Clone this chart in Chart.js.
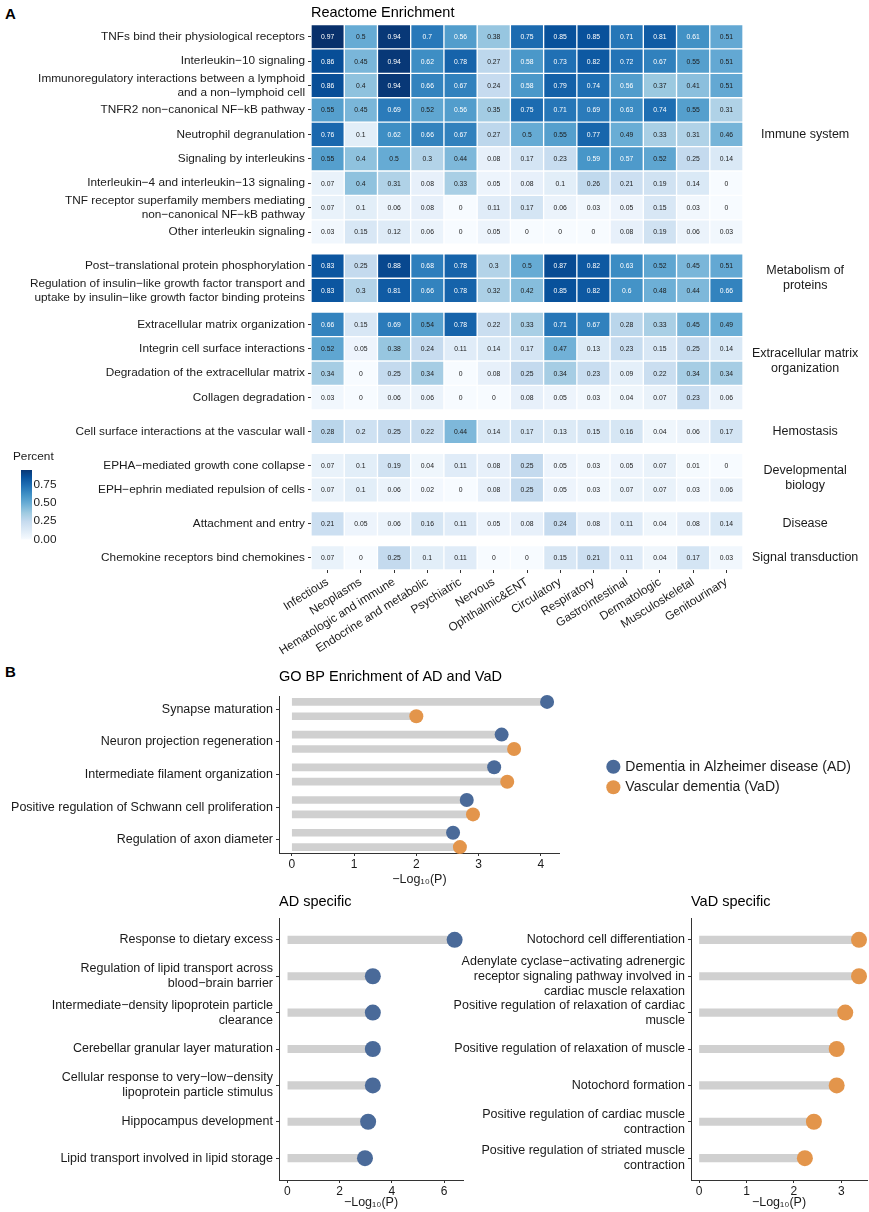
<!DOCTYPE html>
<html>
<head>
<meta charset="utf-8">
<title>Reactome and GO BP enrichment</title>
<script src="https://cdn.jsdelivr.net/npm/chart.js@4.4.1/dist/chart.umd.min.js"></script>
<style>
    body { margin: 0; background: #fff; }
    #page { position: relative; width: 869px; height: 1212px; overflow: hidden;
            font-family: "Liberation Sans", Arial, Helvetica, sans-serif; }
    .tag { position: absolute; font-weight: bold; font-size: 15px; line-height: 15px; color: #000; }
    canvas { position: absolute; }
</style>
</head>
<body>
<div id="page">
    <div class="tag" style="left:5px;top:6px">A</div>
    <div class="tag" style="left:5px;top:664px">B</div>
    <canvas id="heatmap" width="869" height="680" style="left:0;top:0"></canvas>
    <canvas id="colorbar" width="75" height="100" style="left:0;top:448px"></canvas>
    <canvas id="goShared" width="869" height="230" style="left:0;top:662px"></canvas>
    <canvas id="adSpecific" width="470" height="325" style="left:0;top:887px"></canvas>
    <canvas id="vadSpecific" width="429" height="325" style="left:440px;top:887px"></canvas>
</div>
<script>
'use strict';

/* ---------- Panel A data: Reactome enrichment (share of genes) ---------- */

const diseaseCategories = ['Infectious', 'Neoplasms', 'Hematologic and immune', 'Endocrine and metabolic',
    'Psychiatric', 'Nervous', 'Ophthalmic&ENT', 'Circulatory', 'Respiratory', 'Gastrointestinal',
    'Dermatologic', 'Musculoskeletal', 'Genitourinary'];

const pathwayNames = [
    'TNFs bind their physiological receptors',
    'Interleukin−10 signaling',
    ['Immunoregulatory interactions between a lymphoid', 'and a non−lymphoid cell'],
    'TNFR2 non−canonical NF−kB pathway',
    'Neutrophil degranulation',
    'Signaling by interleukins',
    'Interleukin−4 and interleukin−13 signaling',
    ['TNF receptor superfamily members mediating', 'non−canonical NF−kB pathway'],
    'Other interleukin signaling',
    'Post−translational protein phosphorylation',
    ['Regulation of insulin−like growth factor transport and', 'uptake by insulin−like growth factor binding proteins'],
    'Extracellular matrix organization',
    'Integrin cell surface interactions',
    'Degradation of the extracellular matrix',
    'Collagen degradation',
    'Cell surface interactions at the vascular wall',
    'EPHA−mediated growth cone collapse',
    'EPH−ephrin mediated repulsion of cells',
    'Attachment and entry',
    'Chemokine receptors bind chemokines'
];

// index into groupNames for every pathway
const pathwayGroup = [0, 0, 0, 0, 0, 0, 0, 0, 0, 1, 1, 2, 2, 2, 2, 3, 4, 4, 5, 6];

const groupNames = ['Immune system', ['Metabolism of', 'proteins'], ['Extracellular matrix', 'organization'],
    'Hemostasis', ['Developmental', 'biology'], 'Disease', 'Signal transduction'];

// one row per pathway, one column per disease category
const percent = [
    [0.97, 0.5, 0.94, 0.7, 0.56, 0.38, 0.75, 0.85, 0.85, 0.71, 0.81, 0.61, 0.51],
    [0.86, 0.45, 0.94, 0.62, 0.78, 0.27, 0.58, 0.73, 0.82, 0.72, 0.67, 0.55, 0.51],
    [0.86, 0.4, 0.94, 0.66, 0.67, 0.24, 0.58, 0.79, 0.74, 0.56, 0.37, 0.41, 0.51],
    [0.55, 0.45, 0.69, 0.52, 0.56, 0.35, 0.75, 0.71, 0.69, 0.63, 0.74, 0.55, 0.31],
    [0.76, 0.1, 0.62, 0.66, 0.67, 0.27, 0.5, 0.55, 0.77, 0.49, 0.33, 0.31, 0.46],
    [0.55, 0.4, 0.5, 0.3, 0.44, 0.08, 0.17, 0.23, 0.59, 0.57, 0.52, 0.25, 0.14],
    [0.07, 0.4, 0.31, 0.08, 0.33, 0.05, 0.08, 0.1, 0.26, 0.21, 0.19, 0.14, 0],
    [0.07, 0.1, 0.06, 0.08, 0, 0.11, 0.17, 0.06, 0.03, 0.05, 0.15, 0.03, 0],
    [0.03, 0.15, 0.12, 0.06, 0, 0.05, 0, 0, 0, 0.08, 0.19, 0.06, 0.03],
    [0.83, 0.25, 0.88, 0.68, 0.78, 0.3, 0.5, 0.87, 0.82, 0.63, 0.52, 0.45, 0.51],
    [0.83, 0.3, 0.81, 0.66, 0.78, 0.32, 0.42, 0.85, 0.82, 0.6, 0.48, 0.44, 0.66],
    [0.66, 0.15, 0.69, 0.54, 0.78, 0.22, 0.33, 0.71, 0.67, 0.28, 0.33, 0.45, 0.49],
    [0.52, 0.05, 0.38, 0.24, 0.11, 0.14, 0.17, 0.47, 0.13, 0.23, 0.15, 0.25, 0.14],
    [0.34, 0, 0.25, 0.34, 0, 0.08, 0.25, 0.34, 0.23, 0.09, 0.22, 0.34, 0.34],
    [0.03, 0, 0.06, 0.06, 0, 0, 0.08, 0.05, 0.03, 0.04, 0.07, 0.23, 0.06],
    [0.28, 0.2, 0.25, 0.22, 0.44, 0.14, 0.17, 0.13, 0.15, 0.16, 0.04, 0.06, 0.17],
    [0.07, 0.1, 0.19, 0.04, 0.11, 0.08, 0.25, 0.05, 0.03, 0.05, 0.07, 0.01, 0],
    [0.07, 0.1, 0.06, 0.02, 0, 0.08, 0.25, 0.05, 0.03, 0.07, 0.07, 0.03, 0.06],
    [0.21, 0.05, 0.06, 0.16, 0.11, 0.05, 0.08, 0.24, 0.08, 0.11, 0.04, 0.08, 0.14],
    [0.07, 0, 0.25, 0.1, 0.11, 0, 0, 0.15, 0.21, 0.11, 0.04, 0.17, 0.03]
];

const percentTicks = [0, 0.25, 0.5, 0.75];

/* ---------- Panel B data: GO BP enrichment, -log10(P) ---------- */

const goTerms = ['Synapse maturation', 'Neuron projection regeneration', 'Intermediate filament organization',
    'Positive regulation of Schwann cell proliferation', 'Regulation of axon diameter'];
const goLogpAD = [4.10, 3.37, 3.25, 2.81, 2.59];
const goLogpVaD = [2.00, 3.57, 3.46, 2.91, 2.70];
const goTicks = [0, 1, 2, 3, 4];

const adTerms = [
    'Response to dietary excess',
    ['Regulation of lipid transport across', 'blood−brain barrier'],
    ['Intermediate−density lipoprotein particle', 'clearance'],
    'Cerebellar granular layer maturation',
    ['Cellular response to very−low−density', 'lipoprotein particle stimulus'],
    'Hippocampus development',
    'Lipid transport involved in lipid storage'
];
const adLogp = [6.40, 3.27, 3.27, 3.27, 3.27, 3.09, 2.97];
const adTicks = [0, 2, 4, 6];

const vadTerms = [
    'Notochord cell differentiation',
    ['Adenylate cyclase−activating adrenergic', 'receptor signaling pathway involved in', 'cardiac muscle relaxation'],
    ['Positive regulation of relaxation of cardiac', 'muscle'],
    'Positive regulation of relaxation of muscle',
    'Notochord formation',
    ['Positive regulation of cardiac muscle', 'contraction'],
    ['Positive regulation of striated muscle', 'contraction']
];
const vadLogp = [3.37, 3.37, 3.08, 2.90, 2.90, 2.42, 2.23];
const vadTicks = [0, 1, 2, 3];

/* ---------- styling ---------- */

const FONT = '"Liberation Sans", Arial, Helvetica, sans-serif';
const INK = '#1a1a1a';
const AXIS = '#333333';
const BLUES = ['#f7fbff', '#deebf7', '#c6dbef', '#9ecae1', '#6baed6', '#4292c6', '#2171b5', '#08519c', '#08306b'];
const AD_BLUE = '#4a6a99';
const VAD_ORANGE = '#e3954b';
const STICK_GREY = '#d0d0d0';

Chart.defaults.font.family = FONT;
Chart.defaults.color = INK;

const percentMax = Math.max(...percent.flat());

function hexToRgb(hex) {
    const n = parseInt(hex.slice(1), 16);
    return [(n >> 16) & 255, (n >> 8) & 255, n & 255];
}

// map a share onto the Blues ramp, 0 -> lightest, max -> darkest
function blueFor(value) {
    const t = Math.max(0, Math.min(1, value / percentMax)) * (BLUES.length - 1);
    const k = Math.min(Math.floor(t), BLUES.length - 2);
    const f = t - k;
    const a = hexToRgb(BLUES[k]);
    const b = hexToRgb(BLUES[k + 1]);
    const c = a.map((v, i) => Math.round(v + (b[i] - v) * f));
    return `rgb(${c[0]}, ${c[1]}, ${c[2]})`;
}

/* ---------- heatmap ---------- */

const GROUP_GAP = 0.39;   // extra space between facet groups, in rows
const rowPos = pathwayNames.map((_, i) => i + pathwayGroup[i] * GROUP_GAP);
const groupCentre = groupNames.map((_, g) => {
    const rows = rowPos.filter((_, i) => pathwayGroup[i] === g);
    return (rows[0] + rows[rows.length - 1]) / 2;
});
const rowMin = -0.5;
const rowMax = rowPos[rowPos.length - 1] + 0.5;

// writes the share inside each cell
const cellLabels = {
    id: 'cellLabels',
    afterDatasetsDraw(chart) {
        const ctx = chart.ctx;
        ctx.save();
        ctx.font = `6.8px ${FONT}`;
        ctx.textAlign = 'center';
        ctx.textBaseline = 'middle';
        chart.data.datasets.forEach((ds, j) => {
            chart.getDatasetMeta(j).data.forEach((bar, i) => {
                const v = percent[i][j];
                const p = bar.getProps(['x', 'y', 'base'], true);
                ctx.fillStyle = v > 0.555 ? '#ffffff' : INK;
                ctx.fillText(String(v), (p.x + p.base) / 2, p.y + 0.5);
            });
        });
        ctx.restore();
    }
};

function createHeatmap(canvasId) {
    const ctx = document.getElementById(canvasId);
    const tickFont = { family: FONT, size: 11.8 };

    return new Chart(ctx, {
        type: 'bar',
        data: {
            datasets: diseaseCategories.map((name, j) => ({
                label: name,
                data: percent.map((row, i) => ({ x: [j, j + 1], y: rowPos[i] })),
                backgroundColor: percent.map(row => blueFor(row[j])),
                borderColor: '#ffffff',
                borderWidth: 1,
                borderSkipped: false,
                barThickness: 24.4,
                grouped: false
            }))
        },
        options: {
            indexAxis: 'y',
            responsive: false,
            animation: false,
            events: [],
            layout: { padding: 0, autoPadding: false },
            plugins: {
                legend: { display: false },
                tooltip: { enabled: false },
                title: {
                    display: true,
                    text: 'Reactome Enrichment',
                    align: 'start',
                    fullSize: false,
                    color: '#000',
                    font: { family: FONT, size: 14.5, weight: 'normal' },
                    padding: { top: 4, bottom: 3.1 }
                }
            },
            scales: {
                x: {
                    type: 'linear',
                    position: 'bottom',
                    min: 0,
                    max: diseaseCategories.length,
                    offset: false,
                    afterBuildTicks: scale => { scale.ticks = diseaseCategories.map((_, j) => ({ value: j + 0.5 })); },
                    afterFit: scale => { scale.height = 110; },
                    ticks: {
                        autoSkip: false,
                        minRotation: 32,
                        maxRotation: 32,
                        padding: 2,
                        font: tickFont,
                        color: INK,
                        callback: (value, index) => diseaseCategories[index]
                    },
                    grid: { drawOnChartArea: false, tickLength: 3, color: AXIS, offset: false },
                    border: { display: false }
                },
                y: {
                    type: 'linear',
                    position: 'left',
                    reverse: true,
                    min: rowMin,
                    max: rowMax,
                    offset: false,
                    afterBuildTicks: scale => { scale.ticks = rowPos.map(v => ({ value: v })); },
                    afterFit: scale => { scale.width = 311; },
                    ticks: {
                        autoSkip: false,
                        padding: 3,
                        font: tickFont,
                        color: INK,
                        callback: (value, index) => pathwayNames[index]
                    },
                    grid: { drawOnChartArea: false, tickLength: 3, color: AXIS, offset: false },
                    border: { display: false }
                },
                groups: {
                    type: 'linear',
                    position: 'right',
                    axis: 'y',
                    reverse: true,
                    min: rowMin,
                    max: rowMax,
                    offset: false,
                    afterBuildTicks: scale => { scale.ticks = groupCentre.map(v => ({ value: v })); },
                    afterFit: scale => { scale.width = 126; },
                    ticks: {
                        autoSkip: false,
                        crossAlign: 'center',
                        padding: 9,
                        font: { family: FONT, size: 12.5 },
                        color: INK,
                        callback: (value, index) => groupNames[index]
                    },
                    grid: { display: false, drawTicks: false },
                    border: { display: false }
                }
            }
        },
        plugins: [cellLabels]
    });
}

function createColorbar(canvasId) {
    const ctx = document.getElementById(canvasId);

    return new Chart(ctx, {
        type: 'bar',
        data: {
            labels: ['Percent'],
            datasets: [{
                data: [[0, percentMax]],
                barPercentage: 1,
                categoryPercentage: 1,
                borderWidth: 0,
                backgroundColor: context => {
                    const area = context.chart.chartArea;
                    if (!area) return BLUES[4];
                    const g = context.chart.ctx.createLinearGradient(0, area.bottom, 0, area.top);
                    BLUES.forEach((c, k) => g.addColorStop(k / (BLUES.length - 1), c));
                    return g;
                }
            }]
        },
        options: {
            responsive: false,
            animation: false,
            events: [],
            layout: { padding: { left: 13, bottom: 8, top: 0, right: 0 }, autoPadding: false },
            plugins: {
                legend: { display: false },
                tooltip: { enabled: false },
                title: {
                    display: true,
                    text: 'Percent',
                    align: 'start',
                    fullSize: true,
                    color: INK,
                    font: { family: FONT, size: 11.8, weight: 'normal' },
                    padding: { top: 2, bottom: 4 }
                }
            },
            scales: {
                x: { display: false },
                indent: {
                    // blank strip so the bar sits a little right of the title
                    type: 'linear',
                    position: 'left',
                    axis: 'y',
                    afterFit: scale => { scale.width = 8; },
                    ticks: { display: false },
                    grid: { display: false, drawTicks: false },
                    border: { display: false }
                },
                y: {
                    position: 'right',
                    min: 0,
                    max: percentMax,
                    offset: false,
                    afterBuildTicks: scale => { scale.ticks = percentTicks.map(v => ({ value: v })); },
                    afterFit: scale => { scale.width = 43; },
                    ticks: {
                        padding: 1.5,
                        font: { family: FONT, size: 11.8 },
                        color: INK,
                        callback: value => value.toFixed(2)
                    },
                    grid: { display: false, drawTicks: false },
                    border: { display: false }
                }
            }
        }
    });
}

/* ---------- lollipop panels ---------- */

/**
 * Horizontal lollipop chart: grey sticks from zero plus a dot per term
 * @param {string} canvasId - canvas element id
 * @param {Object} o - terms, series [{label, values, color, offset}], ticks, layout numbers
 */
function createLollipop(canvasId, o) {
    const ctx = document.getElementById(canvasId);
    const top = Math.max(...o.series.flatMap(s => s.values));
    const spread = o.series.length > 1 ? 0.4 : 0.6;

    const dots = o.series.map(s => ({
        type: 'scatter',
        label: s.label,
        data: s.values.map((v, i) => ({ x: v, y: i + s.offset })),
        backgroundColor: s.color,
        borderWidth: 0,
        pointRadius: o.dotRadius,
        pointStyle: 'circle',
        clip: false
    }));
    const sticks = o.series.map(s => ({
        type: 'bar',
        indexAxis: 'y',
        label: s.label,
        data: s.values.map((v, i) => ({ x: v, y: i + s.offset })),
        backgroundColor: STICK_GREY,
        borderWidth: 0,
        barThickness: o.stickWidth,
        grouped: false
    }));

    const scales = {
        x: {
            type: 'linear',
            min: -0.05 * top,
            max: 1.05 * top,
            offset: false,
            afterBuildTicks: scale => { scale.ticks = o.ticks.map(v => ({ value: v })); },
            afterFit: scale => { scale.height = o.xHeight; },
            ticks: { padding: 1, font: { family: FONT, size: 12 }, color: INK, callback: v => String(v) },
            grid: { drawOnChartArea: false, tickLength: 3, color: AXIS, offset: false },
            border: { display: true, color: AXIS, width: 1 },
            title: {
                display: true,
                text: '−Log₁₀(P)',
                color: INK,
                font: { family: FONT, size: 12.5 },
                padding: { top: 0, bottom: o.xTitlePad }
            }
        },
        y: {
            type: 'linear',
            reverse: true,
            min: -spread,
            max: o.terms.length - 1 + spread,
            offset: false,
            afterBuildTicks: scale => { scale.ticks = o.terms.map((_, i) => ({ value: i })); },
            afterFit: scale => { scale.width = o.yWidth; },
            ticks: {
                autoSkip: false,
                padding: 3,
                font: { family: FONT, size: 12.5 },
                color: INK,
                callback: (value, index) => o.terms[index]
            },
            grid: { drawOnChartArea: false, tickLength: 3, color: AXIS, offset: false },
            border: { display: true, color: AXIS, width: 1 }
        }
    };
    if (o.legend) {
        // empty strip that pushes the legend away from the panel
        scales.spacer = {
            type: 'linear',
            position: 'right',
            axis: 'y',
            offset: false,
            afterFit: scale => { scale.width = o.legendGap; },
            ticks: { display: false },
            grid: { display: false, drawTicks: false },
            border: { display: false }
        };
    }

    const chart = new Chart(ctx, {
        type: 'bar',
        data: { datasets: dots.concat(sticks) },
        options: {
            responsive: false,
            animation: false,
            events: [],
            layout: { padding: { left: 0, top: 0, bottom: 0, right: o.padRight }, autoPadding: false },
            plugins: {
                tooltip: { enabled: false },
                title: {
                    display: true,
                    text: o.title,
                    align: 'start',
                    fullSize: false,
                    color: '#000',
                    font: { family: FONT, size: 14.5, weight: 'normal' },
                    padding: o.titlePad
                },
                legend: o.legend ? {
                    display: true,
                    position: 'right',
                    align: 'center',
                    maxWidth: 400,
                    labels: {
                        usePointStyle: true,
                        pointStyle: 'circle',
                        boxWidth: 10,
                        boxHeight: 10,
                        padding: 6.5,
                        color: INK,
                        font: { family: FONT, size: 14 },
                        filter: item => item.datasetIndex < o.series.length
                    }
                } : { display: false }
            },
            scales: scales
        }
    });

    // legend width depends on text metrics; nudge the padding so the panel ends where it should
    if (o.plotRight) {
        const shift = o.plotRight - chart.chartArea.right;
        if (Math.abs(shift) > 0.5) {
            chart.options.layout.padding.right = Math.max(0, o.padRight - shift);
            chart.update();
        }
    }
    return chart;
}

createHeatmap('heatmap');
createColorbar('colorbar');

createLollipop('goShared', {
    title: 'GO BP Enrichment of AD and VaD',
    terms: goTerms,
    series: [
        { label: 'Dementia in Alzheimer disease (AD)', values: goLogpAD, color: AD_BLUE, offset: -0.22 },
        { label: 'Vascular dementia (VaD)', values: goLogpVaD, color: VAD_ORANGE, offset: 0.22 }
    ],
    ticks: goTicks,
    dotRadius: 7,
    stickWidth: 7,
    yWidth: 279,
    xHeight: 39,
    xTitlePad: 4.5,
    titlePad: { top: 6, bottom: 10.6 },
    legend: true,
    legendGap: 42,
    padRight: 8,
    plotRight: 560
});

createLollipop('adSpecific', {
    title: 'AD specific',
    terms: adTerms,
    series: [{ label: 'AD', values: adLogp, color: AD_BLUE, offset: 0 }],
    ticks: adTicks,
    dotRadius: 8,
    stickWidth: 7.5,
    yWidth: 279,
    xHeight: 32,
    xTitlePad: 1.5,
    titlePad: { top: 6, bottom: 7.6 },
    legend: false,
    padRight: 7
});

createLollipop('vadSpecific', {
    title: 'VaD specific',
    terms: vadTerms,
    series: [{ label: 'VaD', values: vadLogp, color: VAD_ORANGE, offset: 0 }],
    ticks: vadTicks,
    dotRadius: 8,
    stickWidth: 7.5,
    yWidth: 251,
    xHeight: 32,
    xTitlePad: 1.5,
    titlePad: { top: 6, bottom: 7.6 },
    legend: false,
    padRight: 2
});
</script>
</body>
</html>
